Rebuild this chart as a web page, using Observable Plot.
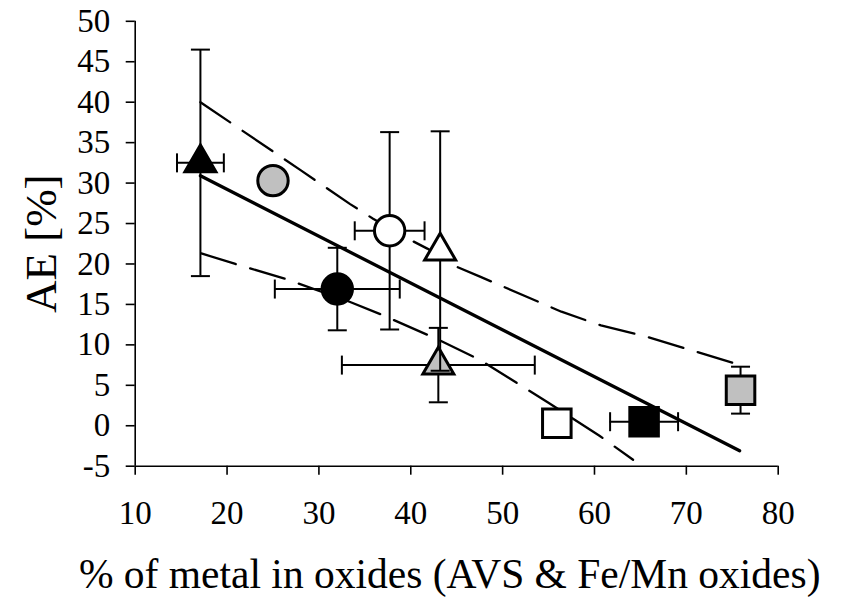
<!DOCTYPE html>
<html><head><meta charset="utf-8">
<script src="https://cdn.jsdelivr.net/npm/d3@7"></script>
<script src="https://cdn.jsdelivr.net/npm/@observablehq/plot@0.6"></script>
<style>body{margin:0;background:#fff;}</style>
</head><body><div id="chart"></div>
<script>
// Data series (drawing order matters: grey triangle before open triangle)
const names   = ["blackTriangle","greyCircle","openCircle","greyTriangle","openTriangle","blackCircle","openSquare","blackSquare","greySquare"];
const xVals   = [17.1, 25.0, 37.7, 43.0, 43.2, 32.0, 55.9, 65.4, 75.9];
const yVals   = [32.5, 30.3, 24.1, 7.5, 21.6, 16.9, 0.3, 0.5, 4.4];
const xErr    = [2.55, 0, 3.8, 10.5, 0, 6.8, 0, 3.7, 0];
const yErr    = [14.0, 0, 12.2, 4.6, 14.8, 5.1, 0, 0, 2.9];
const symbols = ["triangle","circle","circle","triangle","triangle","circle","square","square","square"];
const fills   = ["black","#c0c0c0","white","#c0c0c0","white","black","white","black","#c0c0c0"];

// Regression line and confidence bounds
const trendX = [17.1, 75.8];
const trendY = [30.9, -3.1];
const upperX = [17.1, 28.0, 33.4, 35.9, 39.4, 41.8, 45.1, 47.6, 56.4, 60.7, 65.7, 75.0];
const upperY = [40.0, 31.6, 27.4, 25.6, 23.3, 21.9, 19.6, 18.4, 14.1, 12.4, 11.0, 7.8];
const lowerX = [17.2, 20.9, 26.5, 33.4, 37.1, 42.7, 47.6, 54.9, 60.5, 64.2];
const lowerY = [21.3, 20.0, 18.1, 15.3, 13.6, 10.8, 8.1, 2.9, -1.2, -4.2];

const xTicks = [10, 20, 30, 40, 50, 60, 70, 80];
const yTicks = [-5, 0, 5, 10, 15, 20, 25, 30, 35, 40, 45, 50];
const xTitle = "% of metal in oxides (AVS & Fe/Mn oxides)";
const yTitle = "AE [%]";

const trend = trendX.map((x, i) => ({x, y: trendY[i]}));
const upper = upperX.map((x, i) => ({x, y: upperY[i]}));
const lower = lowerX.map((x, i) => ({x, y: lowerY[i]}));

const capH = {draw(ctx){ ctx.moveTo(-9.5, 0); ctx.lineTo(9.5, 0); }};
const capV = {draw(ctx){ ctx.moveTo(0, -9.5); ctx.lineTo(0, 9.5); }};
const rFor = {triangle: 11.5, circle: 15.2, square: 16.1};

const marks = [
  Plot.line(upper, {x: "x", y: "y", stroke: "black", strokeWidth: 2.3, strokeDasharray: "36,15"}),
  Plot.line(lower, {x: "x", y: "y", stroke: "black", strokeWidth: 2.3, strokeDasharray: "36,15"}),
  Plot.line(trend, {x: "x", y: "y", stroke: "black", strokeWidth: 3.3})
];

names.forEach((n, i) => {
  const d = [{x: xVals[i], y: yVals[i], ex: xErr[i], ey: yErr[i]}];
  if (yErr[i] > 0) {
    marks.push(Plot.ruleX(d, {x: "x", y1: p => p.y - p.ey, y2: p => p.y + p.ey, stroke: "black", strokeWidth: 2}));
    marks.push(Plot.dot(d, {x: "x", y: p => p.y - p.ey, symbol: capH, r: 5, stroke: "black", strokeWidth: 2, fill: "none"}));
    marks.push(Plot.dot(d, {x: "x", y: p => p.y + p.ey, symbol: capH, r: 5, stroke: "black", strokeWidth: 2, fill: "none"}));
  }
  if (xErr[i] > 0) {
    marks.push(Plot.ruleY(d, {y: "y", x1: p => p.x - p.ex, x2: p => p.x + p.ex, stroke: "black", strokeWidth: 2}));
    marks.push(Plot.dot(d, {y: "y", x: p => p.x - p.ex, symbol: capV, r: 5, stroke: "black", strokeWidth: 2, fill: "none"}));
    marks.push(Plot.dot(d, {y: "y", x: p => p.x + p.ex, symbol: capV, r: 5, stroke: "black", strokeWidth: 2, fill: "none"}));
  }
  marks.push(Plot.dot(d, {x: "x", y: "y", symbol: symbols[i], r: rFor[symbols[i]], fill: fills[i], stroke: "black", strokeWidth: 3}));
});

marks.push(
  Plot.ruleY([-5], {stroke: "black", strokeWidth: 1.6}),
  Plot.ruleX([10], {stroke: "black", strokeWidth: 1.6}),
  Plot.axisX({ticks: xTicks, tickSize: 9, tickPadding: 25, fontSize: 33, strokeWidth: 1.6, tickFormat: d => String(d), label: null}),
  Plot.axisY({ticks: yTicks, tickSize: 9, tickPadding: 16, fontSize: 33, strokeWidth: 1.6, tickFormat: d => String(d), label: null}),
  Plot.text([xTitle], {frameAnchor: "bottom", lineAnchor: "middle", textAnchor: "middle", dy: 109, dx: -7, fontSize: 41.5, fill: "black"}),
  Plot.text([yTitle], {frameAnchor: "left", lineAnchor: "middle", textAnchor: "middle", dx: -94, rotate: -90, fontSize: 45, fill: "black"})
);

const chart = Plot.plot({
  width: 847,
  height: 599,
  marginLeft: 134.7,
  marginRight: 69.3,
  marginTop: 20.8,
  marginBottom: 133.3,
  x: {domain: [10, 80]},
  y: {domain: [-5, 50]},
  style: {fontFamily: "'Liberation Serif', 'Times New Roman', serif", color: "black", background: "white"},
  marks
});
document.getElementById("chart").appendChild(chart);
</script>
</body></html>
